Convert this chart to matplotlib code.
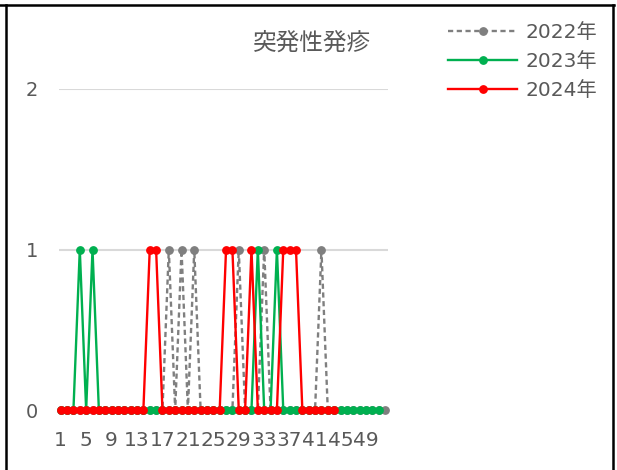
import matplotlib
matplotlib.use("Agg")
import matplotlib.pyplot as plt
from matplotlib.lines import Line2D

plt.rcParams['font.family'] = ['DejaVu Sans', 'Noto Sans CJK JP']

# weekly counts (week 1..)
cases_2022 = [0, 0, 0, 0, 0, 0, 0, 0, 0, 0, 0, 0, 0, 0, 0, 0, 0,
              1, 0, 1, 0, 1,
              0, 0, 0, 0, 0, 0,
              1, 0, 0, 0, 1,
              0, 0, 0, 0, 0, 0, 0, 0,
              1,
              0, 0, 0, 0, 0, 0, 0, 0, 0, 0]
cases_2023 = [0, 0, 0, 1, 0, 1,
              0, 0, 0, 0, 0, 0, 0, 0, 0, 0, 0, 0, 0, 0, 0, 0, 0, 0, 0, 0,
              0, 0, 0, 0, 0,
              1, 0, 0, 1,
              0, 0, 0, 0, 0, 0, 0, 0, 0, 0, 0, 0, 0, 0, 0, 0]
cases_2024 = [0, 0, 0, 0, 0, 0, 0, 0, 0, 0, 0, 0, 0, 0,
              1, 1,
              0, 0, 0, 0, 0, 0, 0, 0, 0, 0,
              1, 1, 0, 0, 1, 0, 0, 0, 0, 1, 1, 1,
              0, 0, 0, 0, 0, 0]
labels = ['2022年', '2023年', '2024年']
colors = ['#7f7f7f', '#00b050', '#ff0000']
title = '突発性発疹'
xtick_weeks = list(range(1, 53, 4))

W, H = 617, 470
fig = plt.figure(figsize=(W / 100, H / 100), dpi=100)
ax = fig.add_axes([59 / W, (H - 410) / H, (388 - 59) / W, (410 - 89) / H])

series = [cases_2022, cases_2023, cases_2024]
for i, (vals, lab, col) in enumerate(zip(series, labels, colors)):
    weeks = list(range(1, len(vals) + 1))
    ls = (0, (2.2, 1.5)) if i == 0 else '-'
    ax.plot(weeks, vals, color=col, lw=1.7, ls=ls, marker='o', ms=5.3,
            label=lab, clip_on=False, zorder=3 + i)

ax.set_xlim(0.73, 52.47)
ax.set_ylim(0, 2)
ax.set_yticks([0, 1, 2])
ax.set_xticks(xtick_weeks)
ax.set_xticklabels([str(w) for w in xtick_weeks])
ax.grid(axis='y', color='#d9d9d9', lw=1.5)
ax.grid(axis='x', visible=False)
for s in ax.spines.values():
    s.set_visible(False)
ax.tick_params(axis='both', length=0, colors='#595959')
ax.tick_params(axis='y', pad=15, labelsize=14)
ax.tick_params(axis='x', pad=15, labelsize=14.5)

fig.text(312 / W, 1 - 43 / H, title, ha='center', va='center',
         fontsize=17, color='#595959', family=['Noto Sans CJK JP'])

leg = fig.legend(loc='upper left', bbox_to_anchor=(448 / W, 1 - 23 / H),
                 frameon=False, fontsize=14.5, handlelength=3.43,
                 handletextpad=0.4, labelspacing=0.5, borderpad=0,
                 borderaxespad=0)
for t in leg.get_texts():
    t.set_color('#595959')

# outer frame
fig.add_artist(Line2D([0, 614 / W], [1 - 5 / H, 1 - 5 / H], color='black', lw=1.8))
fig.add_artist(Line2D([6 / W, 6 / W], [0, 1 - 5 / H], color='black', lw=1.8))
fig.add_artist(Line2D([613 / W, 613 / W], [0, 1 - 5 / H], color='black', lw=1.8))

fig.savefig('out.png', dpi=100)
